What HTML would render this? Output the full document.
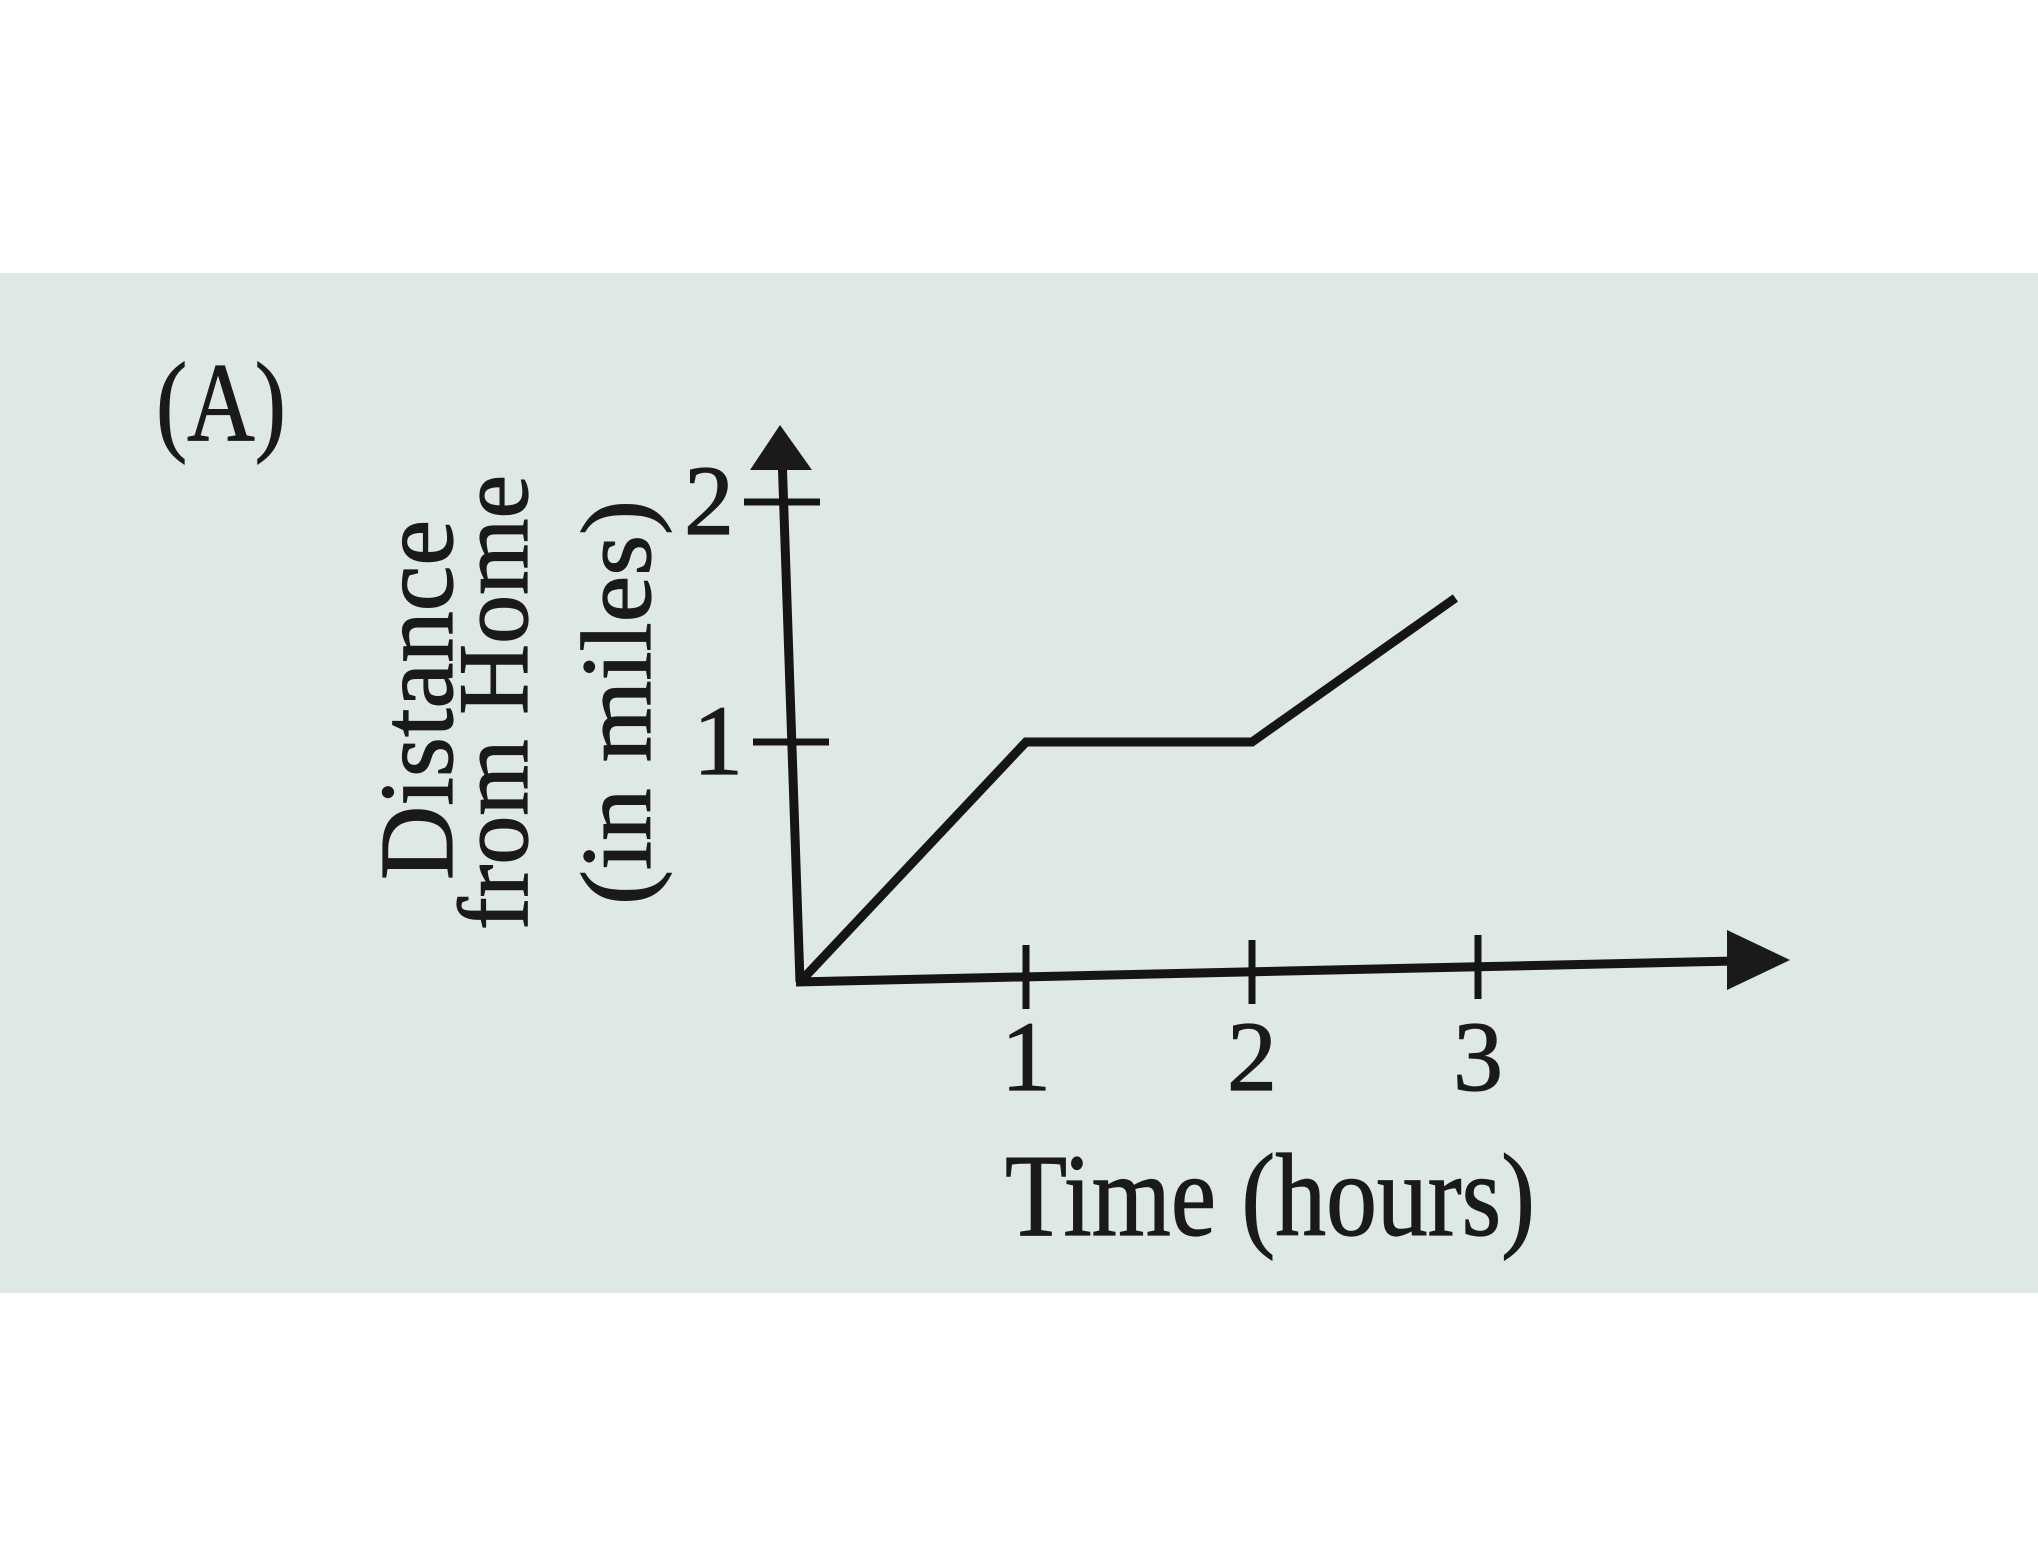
<!DOCTYPE html>
<html><head><meta charset="utf-8"><style>
html,body{margin:0;padding:0;background:#fff;}
svg{display:block;}
text{font-family:"Liberation Serif",serif;fill:#1a1a1a;stroke:#1a1a1a;stroke-width:1.2;}
</style></head><body>
<svg width="2038" height="1567" viewBox="0 0 2038 1567">
<rect x="0" y="273" width="2038" height="1020" fill="#dee8e7"/>
<text x="156" y="440" font-size="112" textLength="130" lengthAdjust="spacingAndGlyphs">(A)</text>
<g>
<text transform="translate(452,880) rotate(-90)" font-size="105" textLength="360" lengthAdjust="spacingAndGlyphs">Distance</text>
<text transform="translate(527,930) rotate(-90)" font-size="100" textLength="455" lengthAdjust="spacingAndGlyphs">from Home</text>
<text transform="translate(650,905) rotate(-90)" font-size="100" textLength="405" lengthAdjust="spacingAndGlyphs">(in miles)</text>
</g>
<text x="1005" y="1235" font-size="118" textLength="530" lengthAdjust="spacingAndGlyphs">Time (hours)</text>
<g id="chart"></g>
</svg>
<script>
const times = [0, 1, 2, 2.9];
const distances = [0, 1, 1, 1.6];
const xTicks = [1, 2, 3];
const yTicks = [1, 2];
const xTickLabels = ["1", "2", "3"];
const yTickLabels = ["1", "2"];

const NS = "http://www.w3.org/2000/svg";
const ox = 800, oy = 982;
function xs(t){ return ox + 226 * t; }
function ys(d){ return oy - 240 * d; }
const g = document.getElementById('chart');
function mk(tag, attrs){ const e = document.createElementNS(NS, tag); for (const k in attrs) e.setAttribute(k, attrs[k]); g.appendChild(e); return e; }

let yAxis = mk('line', {x1: ox, y1: oy, x2: ox - 18, y2: 455, stroke: '#151515', 'stroke-width': 9});


let yArrow = mk('polygon', {points: (ox-50)+',470 '+(ox+12)+',470 '+(ox-20)+',425', fill: '#1a1a1a'});


let xAxis = mk('line', {x1: ox - 4, y1: oy, x2: 1735, y2: 961, stroke: '#151515', 'stroke-width': 9});


let xArrow = mk('polygon', {points: '1727,930 1727,990 1790,960', fill: '#1a1a1a'});



xTicks.forEach((t, i) => {
  const x = xs(t), y = oy - 5 * t;
  let tk = mk('line', {x1: x, y1: y - 32, x2: x, y2: y + 32, stroke: '#151515', 'stroke-width': 7});
  
  
  let lb = mk('text', {x: x, y: 1090, 'font-size': 100, 'text-anchor': 'middle'});
  lb.textContent = xTickLabels[i];
  
  
});
yTicks.forEach((d, i) => {
  const y = ys(d), x = ox - 9 * d;
  let tk = mk('line', {x1: x - 38, y1: y, x2: x + 38, y2: y, stroke: '#151515', 'stroke-width': 7});
  
  
  let lb = mk('text', {x: x - 48, y: y + 32, 'font-size': 100, 'text-anchor': 'end'});
  lb.textContent = yTickLabels[i];
  
  
});

const pts = times.map((t, i) => xs(t) + ',' + ys(distances[i])).join(' ');
let line = mk('polyline', {points: pts, fill: 'none', stroke: '#151515', 'stroke-width': 9, 'stroke-linejoin': 'miter'});


</script>
</body></html>
